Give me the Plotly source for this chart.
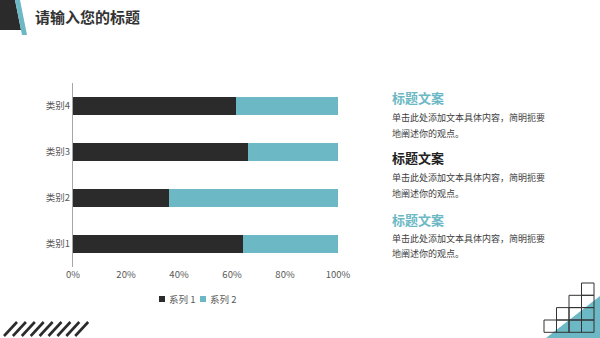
import plotly.graph_objects as go

categories = ["类别1", "类别2", "类别3", "类别4"]
series1 = [4.3, 2.5, 3.5, 4.5]
series2 = [2.4, 4.4, 1.8, 2.8]
series_names = ["系列 1", "系列 2"]
tick_vals = [0, 20, 40, 60, 80, 100]
tick_text = ["0%", "20%", "40%", "60%", "80%", "100%"]

title_text = "请输入您的标题"
headings = ["标题文案", "标题文案", "标题文案"]
body_line1 = "单击此处添加文本具体内容，简明扼要"
body_line2 = "地阐述你的观点。"

DARK = "#2b2b2b"
TEAL = "#6cb8c5"
W, H = 600, 338
FONT = "Noto Sans CJK SC"


def px(x, y):
    return x / W, 1 - y / H


def path(points):
    s = ""
    for i, (x, y) in enumerate(points):
        fx, fy = px(x, y)
        s += ("M" if i == 0 else "L") + f"{fx:.5f},{fy:.5f} "
    return s + "Z"


colors = [DARK, TEAL]
fig = go.Figure()
for name, vals, col in zip(series_names, [series1, series2], colors):
    fig.add_trace(go.Bar(y=categories, x=vals, name=name, orientation="h",
                         marker=dict(color=col, line=dict(width=0)), showlegend=False))

shapes = []
# top-left decoration
shapes.append(dict(type="path", path=path([(0, 0), (15, 0), (21, 30), (0, 30)]),
                   xref="paper", yref="paper", fillcolor=DARK, line=dict(width=0), layer="above"))
shapes.append(dict(type="path", path=path([(15, 0), (20, 0), (27, 35), (22, 35)]),
                   xref="paper", yref="paper", fillcolor=TEAL, line=dict(width=0), layer="above"))
# bottom-left stripes
for i in range(9):
    tx = 17 + i * 8.9
    x0, y0 = px(tx - 13, 336)
    x1, y1 = px(tx, 322)
    shapes.append(dict(type="line", x0=x0, y0=y0, x1=x1, y1=y1, xref="paper", yref="paper",
                       line=dict(color=DARK, width=2.6)))
# bottom-right teal triangle
shapes.append(dict(type="path", path=path([(546, 338), (600, 296), (600, 338)]),
                   xref="paper", yref="paper", fillcolor=TEAL, line=dict(width=0)))
# staircase grid
cols = [544, 556.5, 569, 581.5, 594]
rows = [283, 295.3, 307.6, 320, 332.3]
for r in range(4):
    for c in range(4):
        if c >= 3 - r:
            x0, y0 = px(cols[c], rows[r + 1])
            x1, y1 = px(cols[c + 1], rows[r])
            shapes.append(dict(type="rect", x0=x0, y0=y0, x1=x1, y1=y1, xref="paper", yref="paper",
                               line=dict(color="#333333", width=1), fillcolor="rgba(0,0,0,0)"))

# custom compact legend
legend_x = [159, 200]
for name, col, lx in zip(series_names, colors, legend_x):
    x0, y0 = px(lx, 302)
    x1, y1 = px(lx + 6, 296)
    shapes.append(dict(type="rect", x0=x0, y0=y0, x1=x1, y1=y1, xref="paper", yref="paper",
                       fillcolor=col, line=dict(width=0)))

annotations = []
for name, lx in zip(series_names, legend_x):
    ax, ay = px(lx + 8, 299)
    annotations.append(dict(text=name, x=ax, y=ay, xref="paper", yref="paper", xanchor="left",
                            yanchor="middle", showarrow=False,
                            font=dict(size=9.5, color="#595959", family=FONT)))

tx, ty = px(33, 16)
annotations.append(dict(text=f"<b>{title_text}</b>", x=tx, y=ty, xref="paper", yref="paper",
                        xanchor="left", yanchor="middle", showarrow=False,
                        font=dict(size=15, color="#333333", family=FONT)))
head_colors = [TEAL, "#222222", TEAL]
head_y = [98, 158, 219]
for i in range(3):
    hx, hy = px(390, head_y[i])
    annotations.append(dict(text=f"<b>{headings[i]}</b>", x=hx, y=hy, xref="paper", yref="paper",
                            xanchor="left", yanchor="middle", showarrow=False,
                            font=dict(size=13, color=head_colors[i], family=FONT)))
    for j, line in enumerate([body_line1, body_line2]):
        bx, by = px(390, head_y[i] + 19 + j * 16)
        annotations.append(dict(text=line, x=bx, y=by, xref="paper", yref="paper",
                                xanchor="left", yanchor="middle", showarrow=False,
                                font=dict(size=9, color="#404040", family=FONT)))

fig.update_layout(
    width=W, height=H, margin=dict(l=0, r=0, t=0, b=0),
    paper_bgcolor="white", plot_bgcolor="white",
    barmode="stack", barnorm="percent", bargap=0.6,
    font=dict(family=FONT, size=9, color="#595959"),
    showlegend=False,
    xaxis=dict(domain=[73 / W, 338 / W], range=[0, 100], tickvals=tick_vals, ticktext=tick_text,
               showgrid=False, zeroline=False, showline=False, ticks="", automargin=False,
               tickfont=dict(size=9.5, color="#595959")),
    yaxis=dict(domain=[1 - 267 / H, 1 - 83 / H], showgrid=False, zeroline=False, showline=True,
               linecolor="#a6a6a6", linewidth=1, ticks="", automargin=False,
               tickfont=dict(size=9.5, color="#595959")),
    shapes=shapes, annotations=annotations,
)

fig.write_html("out.html")
